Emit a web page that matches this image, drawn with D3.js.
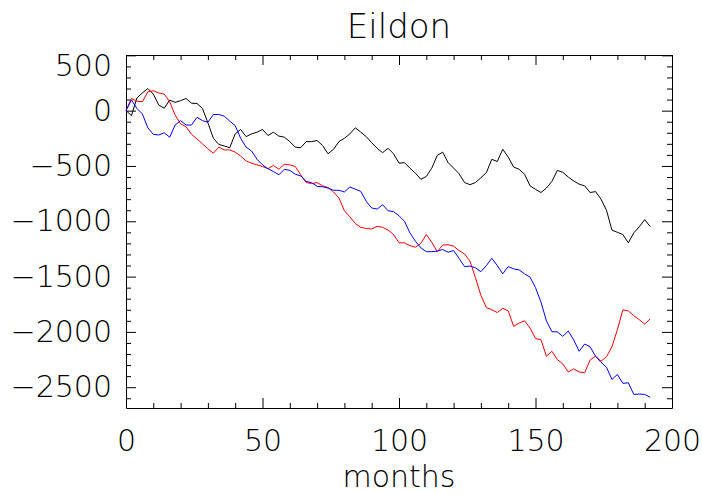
<!DOCTYPE html>
<html>
<head>
<meta charset="UTF-8">
<title>Eildon</title>
<script src="https://d3js.org/d3.v7.min.js"></script>
<style>
    body { margin: 0; background: #fff; }
    svg { font-family: "DejaVu Sans", sans-serif; font-weight: 200; }
    .axis path, .axis line { stroke: #000; }
    .axis text { font-size: 30px; fill: #000; font-family: "DejaVu Sans", sans-serif; font-weight: 200; }
    .series { fill: none; stroke-width: 1; }
</style>
</head>
<body>
<svg></svg>
<script>
// month index (x) shared by all three curves
const months = [0, 2, 4, 6, 8, 10, 12, 14, 16, 18, 20, 22, 24, 26, 28, 30, 32, 34, 36, 38,
    40, 42, 44, 46, 48, 50, 52, 54, 56, 58, 60, 62, 64, 66, 68, 70, 72, 74, 76, 78,
    80, 82, 84, 86, 88, 90, 92, 94, 96, 98, 100, 102, 104, 106, 108, 110, 112, 114, 116, 118,
    120, 122, 124, 126, 128, 130, 132, 134, 136, 138, 140, 142, 144, 146, 148, 150, 152, 154, 156, 158,
    160, 162, 164, 166, 168, 170, 172, 174, 176, 178, 180, 182, 184, 186, 188, 190, 192];

const blackValues = [0, -45, 115, 160, 200, 150, 50, 22, 95, 75, 90, 110, 67, 65, 20, -110, -250, -305, -320, -335,
    -210, -170, -235, -210, -195, -170, -225, -195, -230, -240, -280, -330, -335, -280, -280, -270, -315, -390, -350, -280,
    -250, -210, -155, -195, -235, -290, -340, -380, -340, -390, -475, -470, -520, -565, -620, -595, -520, -405, -375, -470,
    -520, -570, -650, -669, -650, -607, -560, -440, -460, -349, -420, -510, -530, -575, -680, -711, -740, -700, -640, -540,
    -558, -600, -636, -665, -680, -740, -732, -800, -900, -1080, -1100, -1120, -1195, -1105, -1050, -985, -1048];

const redValues = [0, 110, 85, 80, 170, 180, 160, 150, 80, -40, -120, -145, -215, -255, -300, -345, -385, -330, -355, -355,
    -375, -410, -455, -475, -490, -505, -525, -495, -530, -485, -490, -505, -580, -650, -660, -650, -680, -695, -735, -790,
    -905, -960, -1020, -1055, -1065, -1070, -1045, -1055, -1080, -1120, -1195, -1195, -1220, -1235, -1200, -1120, -1190, -1275, -1215, -1212,
    -1225, -1265, -1295, -1360, -1510, -1670, -1780, -1800, -1825, -1787, -1810, -1950, -1920, -1900, -1965, -2060, -2070, -2220, -2175, -2250,
    -2290, -2362, -2335, -2362, -2370, -2254, -2220, -2265, -2225, -2134, -1980, -1800, -1810, -1853, -1890, -1930, -1883];

const blueValues = [0, 97, 20, -30, -155, -215, -220, -200, -240, -130, -90, -130, -130, -60, -90, -105, -35, -35, -50, -95,
    -135, -250, -330, -365, -440, -490, -525, -550, -580, -530, -540, -575, -590, -640, -651, -685, -688, -700, -720, -720,
    -735, -690, -710, -730, -820, -880, -890, -850, -905, -913, -950, -1000, -1105, -1180, -1240, -1275, -1275, -1270, -1255, -1280,
    -1265, -1335, -1410, -1405, -1420, -1456, -1400, -1335, -1400, -1475, -1410, -1430, -1440, -1475, -1505, -1600, -1730, -1900, -1998, -2000,
    -2040, -1992, -2073, -2175, -2110, -2134, -2220, -2275, -2320, -2430, -2385, -2465, -2460, -2565, -2562, -2565, -2591];

const xTicks = [0, 50, 100, 150, 200];
const yTicks = [500, 0, -500, -1000, -1500, -2000, -2500];

const series = [
    { color: '#000000', values: blackValues },
    { color: '#ff0000', values: redValues },
    { color: '#0000ff', values: blueValues }
];

const W = 702, H = 494;
const plot = { left: 126, right: 672, top: 55, bottom: 408 };

const svg = d3.select('svg').attr('width', W).attr('height', H);

const x = d3.scaleLinear().domain([0, 200]).range([plot.left, plot.right]);
const y = d3.scaleLinear().domain([-2688, 503]).range([plot.bottom, plot.top]);

const minorX = d3.range(0, 201, 10).filter(d => d % 50 !== 0);
const minorY = d3.range(-2600, 501, 100).filter(d => d % 500 !== 0);
const fmt = d => d < 0 ? '\u2212' + Math.abs(d) : String(d);

// bottom axis with labels
const gb = svg.append('g').attr('class', 'axis').attr('transform', `translate(0,${plot.bottom})`);
gb.call(d3.axisBottom(x).tickValues(xTicks).tickSize(-10).tickSizeOuter(0).tickPadding(22).tickFormat(fmt));
gb.append('g').call(d3.axisBottom(x).tickValues(minorX).tickSize(-5).tickSizeOuter(0).tickFormat(''))
    .select('.domain').remove();

// top axis, ticks only
const gt = svg.append('g').attr('class', 'axis').attr('transform', `translate(0,${plot.top})`);
gt.call(d3.axisTop(x).tickValues(xTicks).tickSize(-10).tickSizeOuter(0).tickFormat(''));
gt.append('g').call(d3.axisTop(x).tickValues(minorX).tickSize(-5).tickSizeOuter(0).tickFormat(''))
    .select('.domain').remove();

// left axis with labels
const gl = svg.append('g').attr('class', 'axis').attr('transform', `translate(${plot.left},0)`);
gl.call(d3.axisLeft(y).tickValues(yTicks).tickSize(-10).tickSizeOuter(0).tickPadding(14).tickFormat(fmt));
gl.append('g').call(d3.axisLeft(y).tickValues(minorY).tickSize(-5).tickSizeOuter(0).tickFormat(''))
    .select('.domain').remove();
// the top label sits just under the frame corner
gl.selectAll('.tick text').filter(d => d === 500).attr('dy', '0.66em');

// right axis, ticks only
const gr = svg.append('g').attr('class', 'axis').attr('transform', `translate(${plot.right},0)`);
gr.call(d3.axisRight(y).tickValues(yTicks).tickSize(-10).tickSizeOuter(0).tickFormat(''));
gr.append('g').call(d3.axisRight(y).tickValues(minorY).tickSize(-5).tickSizeOuter(0).tickFormat(''))
    .select('.domain').remove();

const line = d3.line()
    .x((d, i) => x(months[i]))
    .y(d => y(d));

svg.selectAll('.series')
    .data(series)
    .enter().append('path')
    .attr('class', 'series')
    .attr('stroke', d => d.color)
    .attr('d', d => line(d.values));

svg.append('text')
    .attr('x', (plot.left + plot.right) / 2)
    .attr('y', 38)
    .attr('text-anchor', 'middle')
    .style('font-size', '34px')
    .text('Eildon');

svg.append('text')
    .attr('x', (plot.left + plot.right) / 2)
    .attr('y', 487)
    .attr('text-anchor', 'middle')
    .style('font-size', '30px')
    .text('months');
</script>
</body>
</html>
